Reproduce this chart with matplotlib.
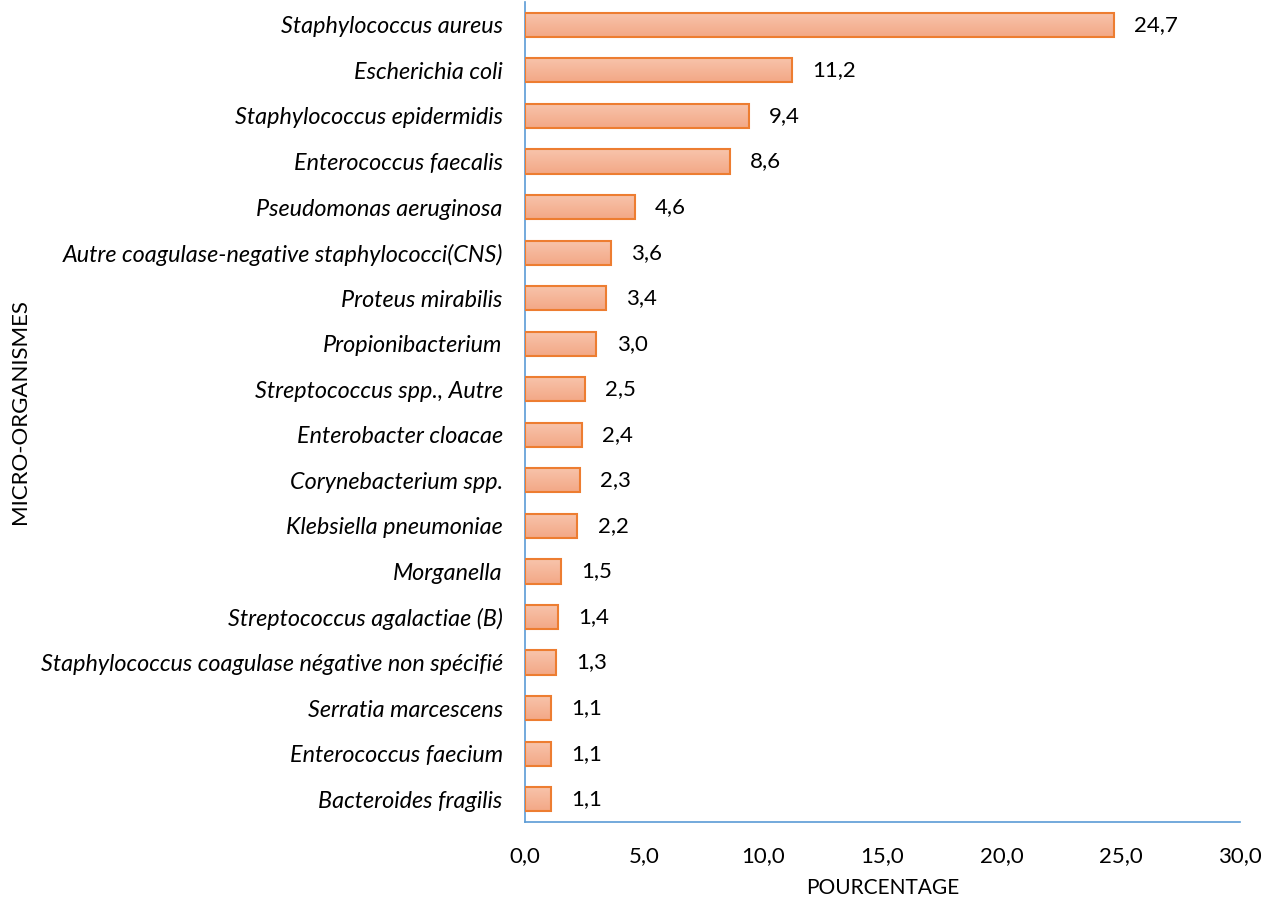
# micro_organismes.py

import numpy as np
import matplotlib
matplotlib.use('Agg')
import matplotlib.pyplot as plt
from matplotlib.colors import LinearSegmentedColormap
from matplotlib.ticker import FuncFormatter

organisms = ['Staphylococcus aureus', 'Escherichia coli', 'Staphylococcus epidermidis',
             'Enterococcus faecalis', 'Pseudomonas aeruginosa',
             'Autre coagulase-negative staphylococci(CNS)', 'Proteus mirabilis',
             'Propionibacterium', 'Streptococcus spp., Autre', 'Enterobacter cloacae',
             'Corynebacterium spp.', 'Klebsiella pneumoniae', 'Morganella',
             'Streptococcus agalactiae (B)', 'Staphylococcus coagulase négative non spécifié',
             'Serratia marcescens', 'Enterococcus faecium', 'Bacteroides fragilis']
percent = [24.7, 11.2, 9.4, 8.6, 4.6, 3.6, 3.4, 3.0, 2.5, 2.4, 2.3, 2.2, 1.5, 1.4, 1.3, 1.1, 1.1, 1.1]
x_ticks = [0, 5, 10, 15, 20, 25, 30]

plt.rcParams['font.family'] = ['Lato', 'DejaVu Sans']
fs = 16

def comma(v, pos=None):
    return ('%.1f' % v).replace('.', ',')

fig = plt.figure(figsize=(12.64, 9.02), dpi=100)
ax = fig.add_axes([0.4153, 0.0887, 0.5657, 0.909])

y = np.arange(len(organisms))
h = 0.53
grad = LinearSegmentedColormap.from_list('g', ['#F8C4AC', '#F3A886'])
g = np.linspace(0, 1, 64).reshape(-1, 1)
for yi, v in zip(y, percent):
    ax.imshow(g, extent=(0, v, yi + h / 2, yi - h / 2), aspect='auto', cmap=grad,
              zorder=2, origin='upper')
ax.barh(y, percent, height=h, color='none', edgecolor='#ED7D31', linewidth=1.5, zorder=3)

for yi, v in zip(y, percent):
    ax.text(v + 0.85, yi, comma(v), va='center', ha='left', fontsize=fs, color='black')

ax.set_xlim(0, 30)
ax.set_ylim(len(organisms) - 0.5, -0.5)
ax.set_xticks(x_ticks)
ax.xaxis.set_major_formatter(FuncFormatter(comma))
ax.set_yticks(y)
ax.set_yticklabels(organisms, fontstyle='italic', fontsize=16.8)
ax.tick_params(axis='x', length=0, pad=17, labelsize=fs)
ax.tick_params(axis='y', length=0, pad=16)

for s in ['top', 'right']:
    ax.spines[s].set_visible(False)
for s in ['left', 'bottom']:
    ax.spines[s].set_color('#5B9BD5')
    ax.spines[s].set_linewidth(1.2)

fig.text(0.4153 + 0.5657 / 2, 0.0155, 'POURCENTAGE', va='center', ha='center', fontsize=15)
fig.text(0.016, 0.0887 + 0.909 / 2, 'MICRO-ORGANISMES', rotation=90, va='center', ha='center',
         fontsize=16)

plt.savefig('out.png')
